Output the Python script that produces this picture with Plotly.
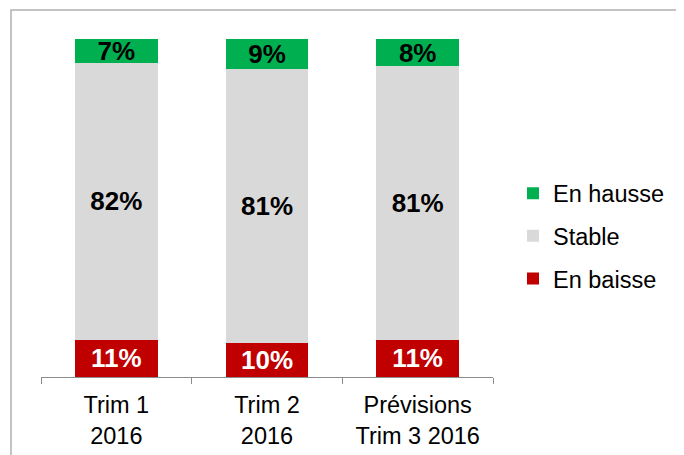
import plotly.graph_objects as go

categories = ["Trim 1<br>2016", "Trim 2<br>2016", "Prévisions<br>Trim 3 2016"]
en_baisse = [11, 10, 11]
stable = [82, 81, 81]
en_hausse = [7, 9, 8]

series = [
    ("En baisse", en_baisse, "#C00000", "white", 3),
    ("Stable", stable, "#D9D9D9", "black", 2),
    ("En hausse", en_hausse, "#00B050", "black", 1),
]

FONT = "Liberation Sans, Arial, sans-serif"

fig = go.Figure()
for name, vals, color, tcolor, rank in series:
    fig.add_trace(go.Bar(
        x=categories, y=vals, name=name,
        marker=dict(color=color, line=dict(width=0)),
        texttemplate="%{y}%", textposition="inside",
        insidetextanchor="middle", textangle=0, constraintext="none",
        textfont=dict(family=FONT, size=26, color=tcolor, weight="bold"),
        legendgroup=name, legendrank=rank,
    ))

# page body has an 8px margin: figure starts at (8, 8) in the window
OFF = 8
W, H = 684 - OFF, 455 - OFF
# absolute plot-area edges in the window
PL, PR, PT, PB = 41, 493, 39, 377
L, R, T, B = PL - OFF, 684 - PR, PT - OFF, 455 - PB

fig.update_layout(
    width=W, height=H,
    barmode="stack", bargap=0.45,
    margin=dict(l=L, r=R, t=T, b=B, pad=0, autoexpand=False),
    paper_bgcolor="white", plot_bgcolor="white",
    font=dict(family=FONT, size=23.5, color="black"),
    showlegend=True,
    legend=dict(
        traceorder="grouped", tracegroupgap=9,
        x=(513 - PL) / (PR - PL), xanchor="left",
        y=(PB - 236) / (PB - PT), yanchor="middle",
        font=dict(family=FONT, size=23.5, color="black"),
        bgcolor="rgba(0,0,0,0)",
    ),
    xaxis=dict(
        showline=True, linecolor="#8C8C8C", linewidth=1.3,
        ticks="outside", tickson="boundaries", ticklen=6, tickcolor="#8C8C8C",
        tickwidth=1.3, showgrid=False, ticklabelstandoff=7, automargin=False,
        tickfont=dict(family=FONT, size=23.5, color="black"),
    ),
    yaxis=dict(range=[0, 100], visible=False, showgrid=False, automargin=False),
)

# outer chart border (top and left edges visible)
x0 = (11 - PL) / (PR - PL)
y1 = (PB - 10) / (PB - PT)
fig.add_shape(type="rect", xref="paper", yref="paper",
              x0=x0, x1=1.6, y0=-0.4, y1=y1,
              line=dict(color="#B0B0B0", width=1.5), fillcolor="rgba(0,0,0,0)", layer="below")

fig.write_html("out.html")
